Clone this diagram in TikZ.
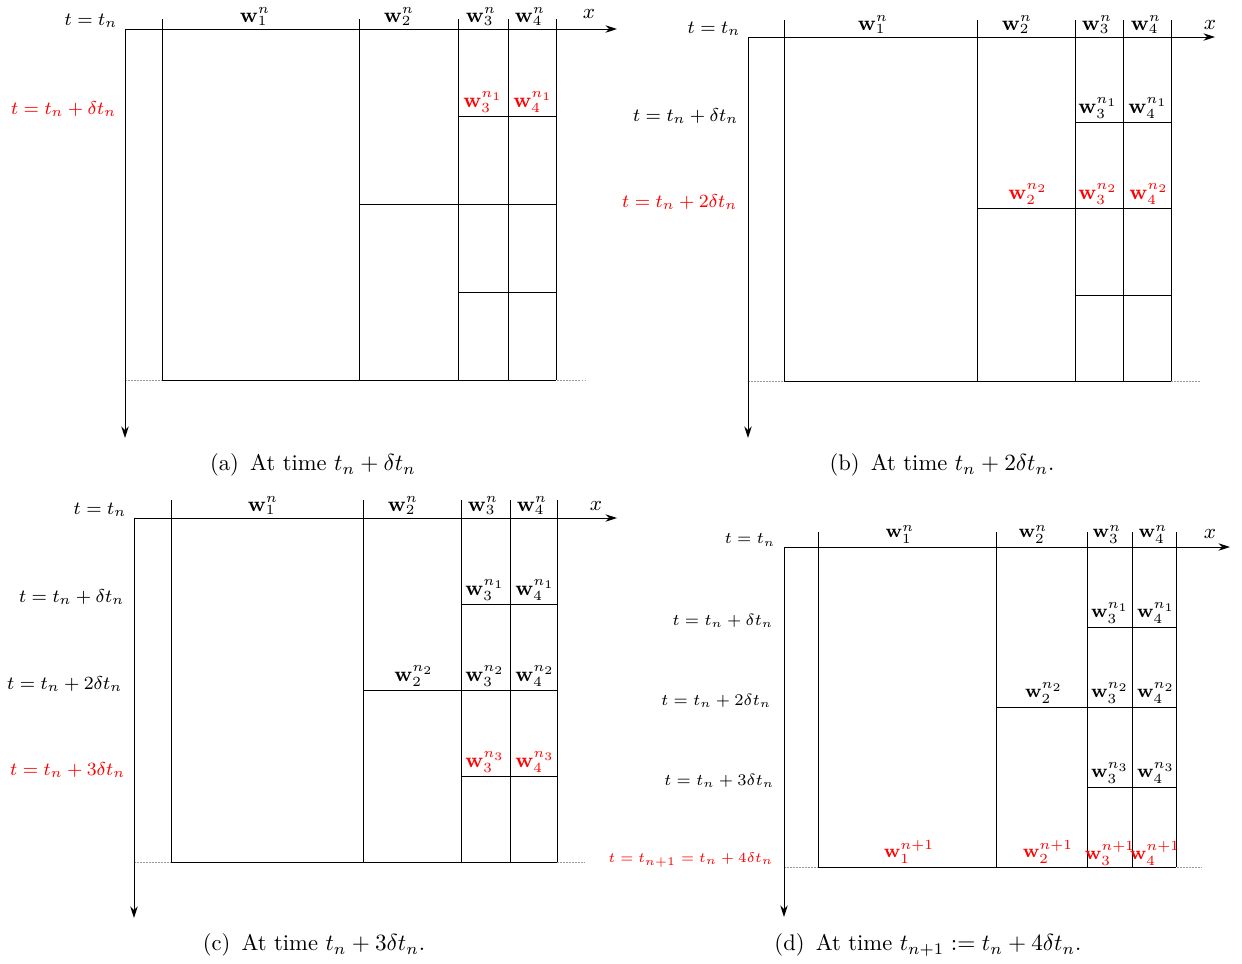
\documentclass[tikz,border=0pt]{standalone}
\usepackage{amsmath,amssymb}
\usepackage{xcolor}
\usetikzlibrary{arrows.meta}

\begin{document}
\begin{tikzpicture}[x=0.43pt, y=-0.43pt,
  axis/.style={-{Stealth[length=5pt, width=3.2pt]}},
  floor/.style={gray!80, dash pattern=on 0.8pt off 0.5pt, thin},
  cell/.style={anchor=south, inner sep=1.2pt, font=\fontsize{8.9}{10}\selectfont},
  level/.style={anchor=east, inner sep=1pt, font=\fontsize{8.2}{10}\selectfont},
  hot/.style={text=red},
  tag/.style={inner sep=1pt, font=\fontsize{9.5}{11}\selectfont},
  caption/.style={font=\fontsize{9.7}{12}\selectfont}
]
\useasboundingbox (0,0) rectangle (1242,963);

% Panel (a)
\coordinate (oa) at (125,29);
\draw[floor] (125,380) -- (585,380);
\draw[axis] (oa) -- (617,29);
\draw[axis] (oa) -- (125,438);
\draw (162,19) -- (162,380) (359,19) -- (359,380) (458,19) -- (458,380)
      (508,19) -- (508,380) (556,19) -- (556,380) (162,380) -- (556,380);
\draw (458,116) -- (556,116) (359,204) -- (556,204) (458,292) -- (556,292);
\node[tag] (a-x) at (589,14) {$x$};
\node[level] (a-t0) at (120,21) {$t=t_n$};
\node[level, hot] (a-t1) at (119,109) {$t=t_n+\delta t_n$};
\node[cell] (a-w1) at (255,29) {$\mathbf{w}_1^n$};
\node[cell] (a-w2) at (399,29) {$\mathbf{w}_2^n$};
\node[cell] (a-w3) at (481,29) {$\mathbf{w}_3^n$};
\node[cell] (a-w4) at (530,29) {$\mathbf{w}_4^n$};
\node[cell, hot] (a-w31) at (483,116) {$\mathbf{w}_3^{n_1}$};
\node[cell, hot] (a-w41) at (533,116) {$\mathbf{w}_4^{n_1}$};
\node[caption] (a-cap) at (313,465) {(a)\enspace At time $t_n+\delta t_n$};

% Panel (b)
\coordinate (ob) at (748,37);
\draw[floor] (748,381) -- (1200,381);
\draw[axis] (ob) -- (1215,37);
\draw[axis] (ob) -- (748,438);
\draw (784,20) -- (784,381) (977,20) -- (977,381) (1075,20) -- (1075,381)
      (1123,20) -- (1123,381) (1171,20) -- (1171,381) (784,381) -- (1171,381);
\draw (1075,122) -- (1171,122) (977,208) -- (1171,208) (1075,295) -- (1171,295);
\node[tag] (b-x) at (1210,25) {$x$};
\node[level] (b-t0) at (743,29) {$t=t_n$};
\node[level] (b-t1) at (741,116) {$t=t_n+\delta t_n$};
\node[level, hot] (b-t2) at (740,202) {$t=t_n+2\delta t_n$};
\node[cell] (b-w1) at (873,37) {$\mathbf{w}_1^n$};
\node[cell] (b-w2) at (1017,37) {$\mathbf{w}_2^n$};
\node[cell] (b-w3) at (1097,37) {$\mathbf{w}_3^n$};
\node[cell] (b-w4) at (1146,37) {$\mathbf{w}_4^n$};
\node[cell] (b-w31) at (1098,122) {$\mathbf{w}_3^{n_1}$};
\node[cell] (b-w41) at (1148,122) {$\mathbf{w}_4^{n_1}$};
\node[cell, hot] (b-w22) at (1028,208) {$\mathbf{w}_2^{n_2}$};
\node[cell, hot] (b-w32) at (1098,208) {$\mathbf{w}_3^{n_2}$};
\node[cell, hot] (b-w42) at (1149,208) {$\mathbf{w}_4^{n_2}$};
\node[caption] (b-cap) at (942,465) {(b)\enspace At time $t_n+2\delta t_n$.};

% Panel (c)
\coordinate (oc) at (134,518);
\draw[floor] (134,862) -- (585,862);
\draw[axis] (oc) -- (617,518);
\draw[axis] (oc) -- (134,918);
\draw (171,500) -- (171,862) (363,500) -- (363,862) (461,500) -- (461,862)
      (510,500) -- (510,862) (557,500) -- (557,862) (171,862) -- (557,862);
\draw (461,604) -- (557,604) (363,690) -- (557,690) (461,776) -- (557,776);
\node[tag] (c-x) at (596,506) {$x$};
\node[level] (c-t0) at (129,510) {$t=t_n$};
\node[level] (c-t1) at (127,597) {$t=t_n+\delta t_n$};
\node[level] (c-t2) at (125,684) {$t=t_n+2\delta t_n$};
\node[level, hot] (c-t3) at (128,770) {$t=t_n+3\delta t_n$};
\node[cell] (c-w1) at (263,518) {$\mathbf{w}_1^n$};
\node[cell] (c-w2) at (403,518) {$\mathbf{w}_2^n$};
\node[cell] (c-w3) at (483,518) {$\mathbf{w}_3^n$};
\node[cell] (c-w4) at (532,518) {$\mathbf{w}_4^n$};
\node[cell] (c-w31) at (485,604) {$\mathbf{w}_3^{n_1}$};
\node[cell] (c-w41) at (535,604) {$\mathbf{w}_4^{n_1}$};
\node[cell] (c-w22) at (414,690) {$\mathbf{w}_2^{n_2}$};
\node[cell] (c-w32) at (485,690) {$\mathbf{w}_3^{n_2}$};
\node[cell] (c-w42) at (535,690) {$\mathbf{w}_4^{n_2}$};
\node[cell, hot] (c-w33) at (485,776) {$\mathbf{w}_3^{n_3}$};
\node[cell, hot] (c-w43) at (535,776) {$\mathbf{w}_4^{n_3}$};
\node[caption] (c-cap) at (314,945) {(c)\enspace At time $t_n+3\delta t_n$.};

% Panel (d)
\coordinate (od) at (784,547);
\draw[floor] (784,867) -- (1202,867);
\draw[axis] (od) -- (1230,547);
\draw[axis] (od) -- (784,917);
\draw (818,532) -- (818,867) (996,532) -- (996,867) (1087,532) -- (1087,867)
      (1132,532) -- (1132,867) (1176,532) -- (1176,867) (818,867) -- (1176,867);
\draw (1087,627) -- (1176,627) (996,707) -- (1176,707) (1087,787) -- (1176,787);
\node[tag] (d-x) at (1210,534) {$x$};
\begin{scope}[cell/.append style={font=\fontsize{8.3}{9}\selectfont},
              level/.append style={font=\fontsize{7.2}{9}\selectfont}]
\node[level] (d-t0) at (778,540) {$t=t_n$};
\node[level] (d-t1) at (776,621) {$t=t_n+\delta t_n$};
\node[level] (d-t2) at (774,701) {$t=t_n+2\delta t_n$};
\node[level] (d-t3) at (777,781) {$t=t_n+3\delta t_n$};
\node[level, hot, font=\fontsize{5.7}{7}\selectfont] (d-t4) at (776,860) {$t=t_{n+1}=t_n+4\delta t_n$};
\node[cell] (d-w1) at (900,547) {$\mathbf{w}_1^n$};
\node[cell] (d-w2) at (1033,547) {$\mathbf{w}_2^n$};
\node[cell] (d-w3) at (1107,547) {$\mathbf{w}_3^n$};
\node[cell] (d-w4) at (1153,547) {$\mathbf{w}_4^n$};
\node[cell] (d-w31) at (1110,627) {$\mathbf{w}_3^{n_1}$};
\node[cell] (d-w41) at (1156,627) {$\mathbf{w}_4^{n_1}$};
\node[cell] (d-w22) at (1044,707) {$\mathbf{w}_2^{n_2}$};
\node[cell] (d-w32) at (1110,707) {$\mathbf{w}_3^{n_2}$};
\node[cell] (d-w42) at (1156,707) {$\mathbf{w}_4^{n_2}$};
\node[cell] (d-w33) at (1110,787) {$\mathbf{w}_3^{n_3}$};
\node[cell] (d-w43) at (1156,787) {$\mathbf{w}_4^{n_3}$};
\node[cell, hot] (d-w14) at (909,867) {$\mathbf{w}_1^{n+1}$};
\node[cell, hot] (d-w24) at (1048,867) {$\mathbf{w}_2^{n+1}$};
\node[cell, hot, inner sep=0.5pt] (d-w34) at (1110,867) {$\mathbf{w}_3^{n+1}$};
\node[cell, hot, inner sep=0.5pt] (d-w44) at (1155,867) {$\mathbf{w}_4^{n+1}$};
\end{scope}
\node[caption] (d-cap) at (928,945) {(d)\enspace At time $t_{n+1}:=t_n+4\delta t_n$.};
\end{tikzpicture}
\end{document}
